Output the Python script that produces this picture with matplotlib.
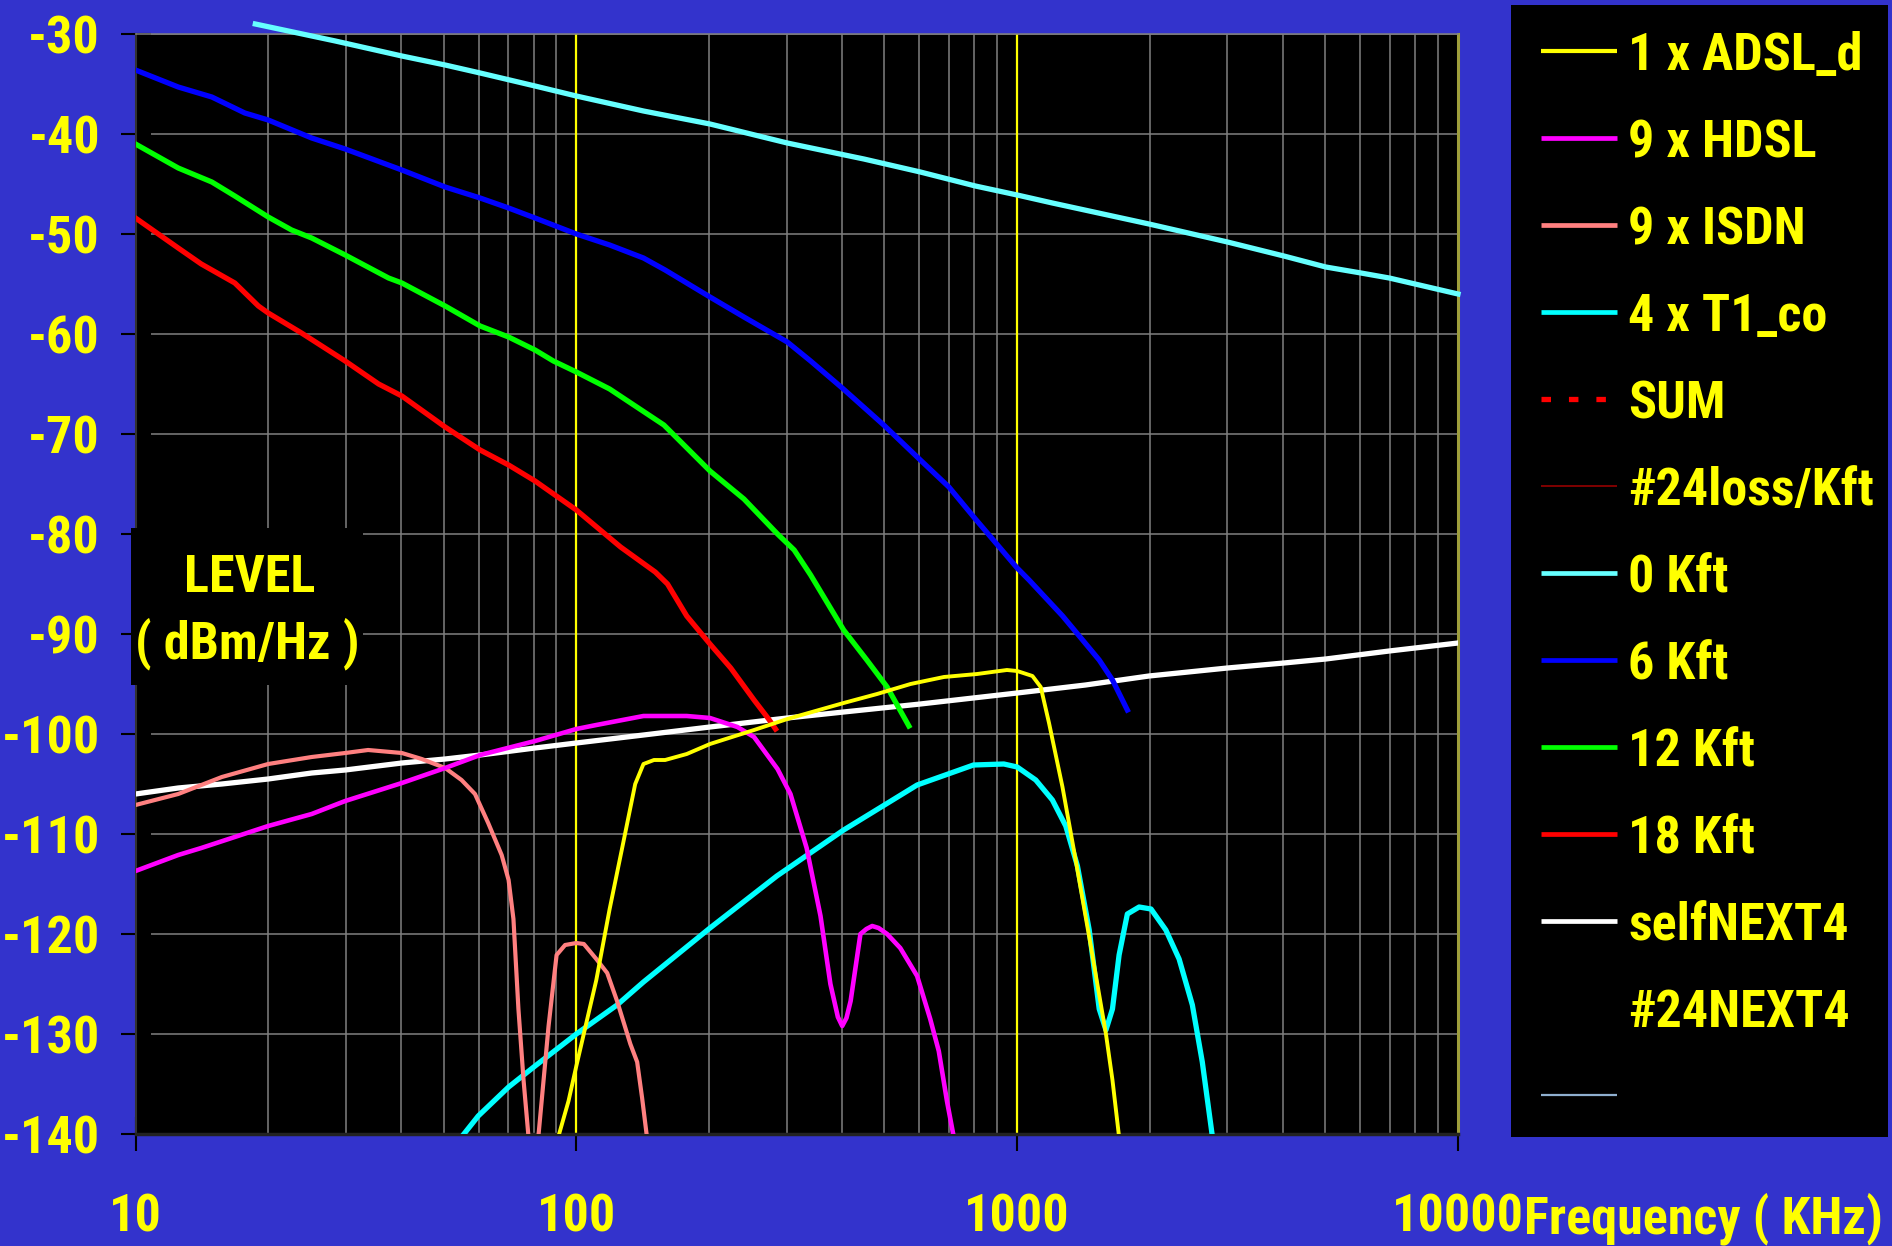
import numpy as np
import matplotlib.pyplot as plt
from matplotlib import font_manager as fm
from matplotlib.patches import Rectangle
from matplotlib.ticker import FixedLocator, LogLocator, NullFormatter


def is_bold(f):
    w = f.weight
    if isinstance(w, str):
        w = fm.weight_dict.get(w, 400)
    return w >= 600


# the original uses a narrow bold Arial, take the closest narrow face with a bold cut
bold_names = {f.name for f in fm.fontManager.ttflist if is_bold(f) and f.style == 'normal'}
narrow = ['Liberation Sans Narrow', 'Arial Narrow', 'Archivo Narrow', 'Roboto Condensed',
          'PT Sans Narrow', 'Open Sans Condensed', 'IBM Plex Sans Condensed']
face = next((n for n in narrow if n in bold_names), 'Liberation Sans')
plt.rcParams['font.family'] = [face, 'Liberation Sans', 'DejaVu Sans']
plt.rcParams['font.weight'] = 'bold'
plt.rcParams['axes.unicode_minus'] = False

W, H = 1892, 1246
BG = '#3333CC'
YEL = '#FFFF00'
FS = 37.5

# frequency in KHz, level in dBm/Hz
adsl_f = [91, 96, 100, 111, 119, 128, 136, 142, 150, 159, 178, 201, 253, 301, 404, 481, 573, 682,
          811, 948, 1000, 1083, 1131, 1181, 1267, 1360, 1457, 1590, 1645, 1703]
adsl_db = [-140.3, -136.7, -133.2, -124.6, -117.5, -110.7, -105.0, -103.0, -102.6, -102.6, -102.0,
           -101.0, -99.6, -98.5, -96.9, -96.0, -95.0, -94.3, -94.0, -93.6, -93.7, -94.2, -95.3,
           -98.9, -105.3, -112.8, -120.3, -130.0, -134.6, -140.3]

hdsl_f = [10, 12.5, 14.1, 20, 25.1, 29.9, 40.2, 50.4, 60.5, 80.6, 100, 111, 142, 178, 201, 232, 253,
          286, 306, 333, 358, 377, 392, 401, 410, 419, 441, 455, 469, 485, 507, 543, 593, 635, 664,
          693, 718]
hdsl_db = [-113.7, -112.1, -111.4, -109.2, -108.0, -106.7, -104.9, -103.4, -102.1, -100.7, -99.5,
           -99.1, -98.2, -98.2, -98.4, -99.3, -100.3, -103.5, -106.0, -111.4, -118.2, -125.0, -128.3,
           -129.2, -128.4, -126.7, -120.0, -119.5, -119.2, -119.4, -120.0, -121.4, -124.2, -128.5,
           -131.7, -136.7, -140.3]

isdn_f = [10, 12.5, 15.7, 20, 25.1, 29.9, 33.7, 40.2, 44.6, 50.4, 54.9, 58.9, 63.1, 67.7, 70.2, 72,
          73.9, 75.9, 77.9, 80, 82, 86.5, 90.2, 94.3, 100, 104, 111, 117.5, 123.7, 132.6, 137.4, 141,
          144.6]
isdn_db = [-107.1, -106.0, -104.3, -103.0, -102.3, -101.9, -101.6, -101.9, -102.5, -103.4, -104.6,
           -106.0, -108.9, -112.1, -114.6, -118.5, -127.5, -134.6, -140.3, -145.0, -140.3, -129.2,
           -122.1, -121.1, -120.9, -121.0, -122.5, -123.9, -126.7, -131.0, -132.8, -136.4, -140.3]

t1_f = [54.9, 59.9, 70.2, 80.6, 100, 123.7, 142, 201, 285, 404, 593, 796, 933, 1000, 1102, 1202,
        1289, 1370, 1457, 1535, 1590, 1645, 1703, 1778, 1891, 2012, 2174, 2330, 2497, 2630, 2773]
t1_db = [-140.3, -138.2, -135.3, -133.2, -130.0, -127.1, -124.8, -119.4, -114.2, -109.6, -105.1,
         -103.1, -103.0, -103.3, -104.6, -106.6, -109.2, -113.2, -119.6, -127.5, -129.6, -127.5,
         -122.1, -118.0, -117.3, -117.5, -119.6, -122.5, -127.1, -132.8, -140.3]

kft0_f = [18.7, 28.4, 40.2, 50.4, 60.5, 80.6, 100, 142, 201, 301, 449, 603, 804, 1000, 1202, 1991,
          3000, 4027, 5012, 6025, 6982, 10000]
kft0_db = [-29.0, -30.7, -32.2, -33.1, -33.9, -35.2, -36.2, -37.7, -39.0, -40.9, -42.5, -43.8, -45.2,
           -46.1, -46.9, -49.0, -50.8, -52.2, -53.3, -53.9, -54.4, -56.0]

kft6_f = [10, 12.5, 14.9, 17.7, 20, 25.1, 29.9, 40.2, 50.4, 60.5, 70.2, 80.6, 100, 119, 142, 159,
          201, 240, 301, 340, 401, 498, 603, 700, 804, 1000, 1064, 1268, 1535, 1645, 1778]
kft6_db = [-33.6, -35.3, -36.3, -37.9, -38.6, -40.4, -41.5, -43.6, -45.3, -46.4, -47.4, -48.4, -50.0,
           -51.1, -52.4, -53.6, -56.3, -58.3, -60.8, -62.7, -65.4, -69.1, -72.6, -75.3, -78.5, -83.4,
           -84.6, -88.2, -92.6, -94.6, -97.6]

kft12_f = [10, 12.5, 14.9, 16.8, 20, 22.6, 25.1, 29.9, 37.5, 40.2, 50.4, 60.5, 70.2, 80.6, 88.7, 100,
           119, 158, 201, 240, 286, 312, 340, 404, 456, 507, 568]
kft12_db = [-41.0, -43.4, -44.8, -46.2, -48.3, -49.6, -50.4, -52.1, -54.4, -54.9, -57.2, -59.2, -60.3,
            -61.6, -62.7, -63.8, -65.5, -69.1, -73.7, -76.5, -80.0, -81.6, -84.1, -89.6, -92.6, -95.3,
            -99.2]

kft18_f = [10, 12.5, 14.1, 16.8, 19, 20, 23.8, 29.9, 35.6, 40.2, 50.4, 60.5, 70.2, 80.6, 100, 126,
           151, 161, 178, 201, 224, 253, 273, 283]
kft18_db = [-48.4, -51.4, -53.0, -54.9, -57.2, -57.9, -59.9, -62.7, -65.0, -66.2, -69.3, -71.6, -73.1,
            -74.7, -77.6, -81.3, -83.8, -85.0, -88.2, -91.0, -93.4, -96.6, -98.5, -99.5]

next_f = [10, 12.5, 15.7, 20, 25.1, 29.9, 40.2, 50.4, 60.5, 80.6, 100, 142, 201, 301, 404, 603, 1000,
          1429, 1991, 3000, 4027, 5012, 6982, 10000]
next_db = [-106.0, -105.4, -105.0, -104.5, -103.9, -103.6, -102.9, -102.5, -102.1, -101.4, -100.9,
           -100.1, -99.3, -98.4, -97.8, -97.0, -95.9, -95.1, -94.2, -93.4, -92.9, -92.5, -91.7, -90.9]

legend_labels = ['1 x ADSL_d', '9 x HDSL', '9 x ISDN', '4 x T1_co', 'SUM', '#24loss/Kft', '0 Kft',
                 '6 Kft', '12 Kft', '18 Kft', 'selfNEXT4', '#24NEXT4', '']

fig = plt.figure(figsize=(W / 100, H / 100), dpi=100, facecolor=BG)
ax = fig.add_axes([135.5 / W, 1 - 1134 / H, (1458 - 135.5) / W, 1100 / H])
ax.set_facecolor('black')
ax.set_xscale('log')
ax.set_xlim(10, 10000)
ax.set_ylim(-140, -30)

ax.xaxis.set_major_locator(FixedLocator([10, 100, 1000, 10000]))
ax.set_xticklabels(['10', '100', '1000', '10000'])
ax.xaxis.set_minor_locator(LogLocator(base=10, subs=range(2, 10)))
ax.xaxis.set_minor_formatter(NullFormatter())
ax.set_yticks(np.arange(-140, -29, 10))
ax.tick_params(axis='x', which='major', direction='inout', length=24, width=1.5, color='black',
               pad=30, labelsize=FS, labelcolor=YEL)
ax.tick_params(axis='x', which='minor', length=0)
ax.tick_params(axis='y', direction='inout', length=21, width=1.5, color='black',
               pad=15, labelsize=FS, labelcolor=YEL)
for lab in ax.get_xticklabels() + ax.get_yticklabels():
    lab.set_fontweight('bold')

ax.grid(True, which='major', axis='y', color='#808080', lw=1.1)
ax.grid(True, which='both', axis='x', color='#808080', lw=1.1)
ax.set_axisbelow(True)
for x in [100, 1000]:
    ax.axvline(x, color=YEL, lw=1.6, zorder=1.5)

ax.spines['left'].set_color('#333333')
ax.spines['left'].set_linewidth(1.5)
ax.spines['bottom'].set_color('#222222')
ax.spines['bottom'].set_linewidth(2.5)
ax.spines['top'].set_color('#808080')
ax.spines['top'].set_linewidth(1.1)
ax.spines['right'].set_color('#9E9E3C')
ax.spines['right'].set_linewidth(2.2)

ax.plot(next_f, next_db, color='white', lw=3.8, zorder=3)
ax.plot(kft18_f, kft18_db, color='#FF0000', lw=3.8, zorder=3)
ax.plot(kft12_f, kft12_db, color='#00FF00', lw=3.8, zorder=3)
ax.plot(kft6_f, kft6_db, color='#0000FF', lw=3.8, zorder=3)
ax.plot(kft0_f, kft0_db, color='#66FFFF', lw=3.8, zorder=3, clip_on=False)
ax.plot(t1_f, t1_db, color='#00FFFF', lw=3.8, zorder=3)
ax.plot(isdn_f, isdn_db, color='#FF8080', lw=3.0, zorder=3)
ax.plot(hdsl_f, hdsl_db, color='#FF00FF', lw=3.3, zorder=3)
ax.plot(adsl_f, adsl_db, color=YEL, lw=2.8, zorder=3)

# y axis title box
fig.patches.append(Rectangle((131 / W, 1 - 685 / H), 232 / W, 157 / H, transform=fig.transFigure,
                             facecolor='black', edgecolor='none', zorder=2))
fig.text(250 / W, 1 - 591.5 / H, 'LEVEL', color=YEL, fontsize=FS, fontweight='bold',
         ha='center', va='baseline', zorder=3)
fig.text(247.5 / W, 1 - 658.5 / H, '( dBm/Hz )', color=YEL, fontsize=FS, fontweight='bold',
         ha='center', va='baseline', zorder=3)

# legend panel
lg = fig.add_axes([1511 / W, 1 - 1137 / H, 377 / W, 1132 / H])
lg.set_facecolor('black')
lg.set_xlim(1511, 1888)
lg.set_ylim(1137, 5)
lg.set_xticks([])
lg.set_yticks([])
for s in lg.spines.values():
    s.set_visible(False)

styles = [('#FFFF00', 3.0, '-'), ('#FF00FF', 3.4, '-'), ('#FF8080', 3.4, '-'), ('#00FFFF', 3.4, '-'),
          ('#FF0000', 3.8, (0, (1.8, 3.4))), ('#800000', 1.4, '-'), ('#66FFFF', 3.4, '-'),
          ('#0000FF', 3.4, '-'), ('#00FF00', 3.4, '-'), ('#FF0000', 3.4, '-'), ('#FFFFFF', 3.4, '-'),
          ('#000000', 1.4, '-'), ('#8FAFCF', 1.6, '-')]
for k, (label, (c, w, ls)) in enumerate(zip(legend_labels, styles)):
    y = 51.4 + 87.0 * k
    lg.plot([1541, 1617], [y, y], color=c, lw=w, ls=ls, solid_capstyle='butt',
            dash_capstyle='butt')
    lg.text(1628, y + 18.7, label, color=YEL, fontsize=FS, fontweight='bold', va='baseline')

# x axis title sits right after the last tick label
fig.canvas.draw()
bb = ax.get_xticklabels()[-1].get_window_extent()
fig.text(bb.x1 / W, bb.y1 / H, 'Frequency ( KHz)', color=YEL, fontsize=FS, fontweight='bold',
         ha='left', va='top')

fig.savefig('out.png', dpi=100, facecolor=BG)
